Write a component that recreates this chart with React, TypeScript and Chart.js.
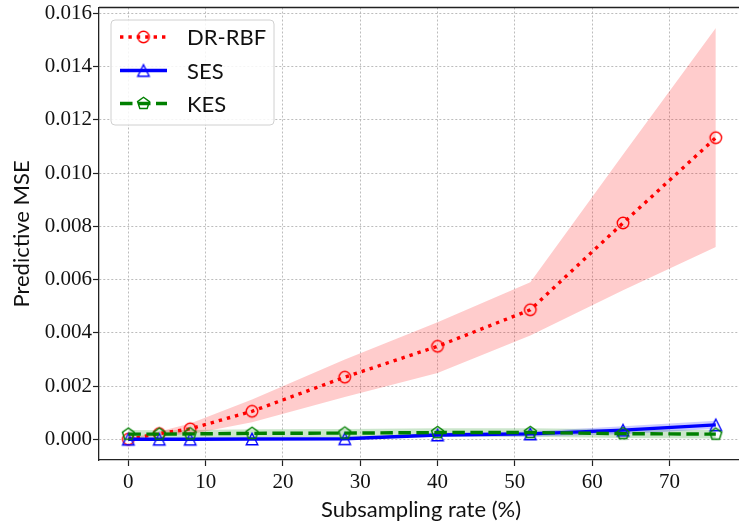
import React, { useEffect, useRef } from "react";
import { Chart, registerables } from "chart.js";

Chart.register(...registerables);

// ---- data ----
const xValues = [0, 4, 8, 16, 28, 40, 52, 64, 76];

const drMean = [0.00001, 0.00022, 0.0004, 0.00106, 0.00234, 0.0035, 0.00487, 0.00813, 0.01133];
const drLow = [0.0, 0.00015, 0.0002, 0.00065, 0.0016, 0.0025, 0.0039, 0.0056, 0.00723];
const drHigh = [0.00003, 0.0003, 0.0006, 0.0015, 0.003, 0.0044, 0.0059, 0.0107, 0.01545];

const sesMean = [0.00001, 0.00001, 0.00001, 0.00002, 0.00003, 0.00017, 0.00021, 0.00035, 0.00055];
const sesLow = [0.0, 0.0, 0.0, 0.0, 0.0, 0.0001, 0.00011, 0.0002, 0.0004];
const sesHigh = [0.00003, 0.00003, 0.00003, 0.00004, 0.00006, 0.00024, 0.0003, 0.0005, 0.0007];

const kesMean = [0.0002, 0.0002, 0.00021, 0.00023, 0.00024, 0.00026, 0.00026, 0.00022, 0.0002];
const kesLow = [0.00004, 0.00005, 0.00006, 0.00008, 0.00009, 0.0001, 0.0001, 0.00006, 0.00004];
const kesHigh = [0.00036, 0.00035, 0.00036, 0.00038, 0.00039, 0.00042, 0.00042, 0.00038, 0.00036];

const xTicks = [0, 10, 20, 30, 40, 50, 60, 70];
const yTicks = [0, 0.002, 0.004, 0.006, 0.008, 0.01, 0.012, 0.014, 0.016];

const seriesNames = ["DR-RBF", "SES", "KES"];
const xTitle = "Subsampling rate (%)";
const yTitle = "Predictive MSE";

const RED = "#ff0000";
const BLUE = "#0000ff";
const GREEN = "#008000";

function makeMarker(kind: string, color: string, size: number) {
  const pad = 2;
  const dim = Math.round(size + pad * 2);
  const c = document.createElement("canvas");
  c.width = dim;
  c.height = dim;
  const ctx = c.getContext("2d")!;
  const cx = dim / 2;
  const cy = dim / 2;
  const r = size / 2;
  ctx.strokeStyle = color;
  ctx.lineWidth = 1.4;
  ctx.beginPath();
  if (kind === "circle") {
    ctx.arc(cx, cy, r, 0, Math.PI * 2);
  } else if (kind === "triangle") {
    ctx.moveTo(cx, cy - r);
    ctx.lineTo(cx - r, cy + r);
    ctx.lineTo(cx + r, cy + r);
    ctx.closePath();
  } else {
    for (let k = 0; k < 5; k++) {
      const a = -Math.PI / 2 + (k * 2 * Math.PI) / 5;
      const px = cx + r * Math.cos(a);
      const py = cy + r * Math.sin(a);
      if (k === 0) ctx.moveTo(px, py);
      else ctx.lineTo(px, py);
    }
    ctx.closePath();
  }
  ctx.stroke();
  return c;
}

export default function App() {
  const ref = useRef<HTMLCanvasElement | null>(null);

  useEffect(() => {
    const canvas = ref.current!;
    const circle = makeMarker("circle", RED, 11.5);
    const tri = makeMarker("triangle", BLUE, 11.5);
    const pent = makeMarker("pentagon", GREEN, 12.5);

    const pts = (arr: number[]) => xValues.map((x, i) => ({ x, y: arr[i] }));

    const bandBase = {
      borderWidth: 0,
      pointRadius: 0,
      pointHoverRadius: 0,
      showLine: true,
    };

    const legendItems = [
      { name: seriesNames[0], color: RED, width: 3.4, dash: [3.4, 5], marker: circle },
      { name: seriesNames[1], color: BLUE, width: 3.4, dash: [] as number[], marker: tri },
      { name: seriesNames[2], color: GREEN, width: 3.4, dash: [12.5, 5.5], marker: pent },
    ];

    const extras = {
      id: "extras",
      afterDraw(chart: any) {
        const { ctx, chartArea } = chart;
        ctx.save();
        // top spine
        ctx.strokeStyle = "#222";
        ctx.lineWidth = 1.3;
        ctx.beginPath();
        ctx.moveTo(chartArea.left, chartArea.top);
        ctx.lineTo(chartArea.right, chartArea.top);
        ctx.stroke();

        // axis titles
        ctx.fillStyle = "#111";
        ctx.font = "22px Lato";
        ctx.textAlign = "center";
        ctx.textBaseline = "middle";
        ctx.fillText(xTitle, 421, 510);
        ctx.save();
        ctx.translate(22, 234);
        ctx.rotate(-Math.PI / 2);
        ctx.fillText(yTitle, 0, 0);
        ctx.restore();

        // legend
        const bx = 111, by = 20, bw = 163, bh = 105, rr = 4;
        ctx.beginPath();
        ctx.moveTo(bx + rr, by);
        ctx.lineTo(bx + bw - rr, by);
        ctx.quadraticCurveTo(bx + bw, by, bx + bw, by + rr);
        ctx.lineTo(bx + bw, by + bh - rr);
        ctx.quadraticCurveTo(bx + bw, by + bh, bx + bw - rr, by + bh);
        ctx.lineTo(bx + rr, by + bh);
        ctx.quadraticCurveTo(bx, by + bh, bx, by + bh - rr);
        ctx.lineTo(bx, by + rr);
        ctx.quadraticCurveTo(bx, by, bx + rr, by);
        ctx.closePath();
        ctx.fillStyle = "rgba(255,255,255,0.85)";
        ctx.fill();
        ctx.strokeStyle = "#d0d0d0";
        ctx.lineWidth = 1;
        ctx.stroke();

        const rows = [37, 70.5, 103.5];
        legendItems.forEach((it, i) => {
          const y = rows[i];
          ctx.save();
          ctx.strokeStyle = it.color;
          ctx.lineWidth = it.width;
          ctx.setLineDash(it.dash);
          ctx.beginPath();
          ctx.moveTo(120, y);
          ctx.lineTo(167, y);
          ctx.stroke();
          ctx.restore();
          ctx.drawImage(it.marker, 143.5 - it.marker.width / 2, y - it.marker.height / 2);
          ctx.fillStyle = "#111";
          ctx.font = "22px Lato";
          ctx.textAlign = "left";
          ctx.textBaseline = "middle";
          ctx.fillText(it.name, 187, y + 1);
        });
        ctx.restore();
      },
    };

    const chart = new Chart(canvas, {
      type: "line",
      data: {
        datasets: [
          {
            label: seriesNames[2],
            data: pts(kesMean),
            borderColor: GREEN,
            borderWidth: 3.4,
            borderDash: [12.5, 5.5],
            borderCapStyle: "butt",
            pointStyle: pent as any,
            pointRadius: 5,
            fill: false,
          },
          {
            label: seriesNames[1],
            data: pts(sesMean),
            borderColor: BLUE,
            borderWidth: 3.4,
            pointStyle: tri as any,
            pointRadius: 5,
            fill: false,
          },
          {
            label: seriesNames[0],
            data: pts(drMean),
            borderColor: RED,
            borderWidth: 3.4,
            borderDash: [3.4, 5],
            borderCapStyle: "butt",
            pointStyle: circle as any,
            pointRadius: 5,
            fill: false,
          },
          { ...bandBase, label: "drLow", data: pts(drLow), fill: false },
          { ...bandBase, label: "drHigh", data: pts(drHigh), fill: 3, backgroundColor: "rgba(255,0,0,0.2)" },
          { ...bandBase, label: "sesLow", data: pts(sesLow), fill: false },
          { ...bandBase, label: "sesHigh", data: pts(sesHigh), fill: 5, backgroundColor: "rgba(0,0,255,0.2)" },
          { ...bandBase, label: "kesLow", data: pts(kesLow), fill: false },
          { ...bandBase, label: "kesHigh", data: pts(kesHigh), fill: 7, backgroundColor: "rgba(0,128,0,0.2)" },
        ] as any,
      },
      options: {
        responsive: false,
        animation: false,
        events: [],
        layout: { autoPadding: false, padding: { top: 7.5, right: 0, left: 0, bottom: 0 } },
        plugins: {
          legend: { display: false },
          tooltip: { enabled: false },
        },
        scales: {
          x: {
            type: "linear",
            min: -3.8,
            max: 79,
            afterBuildTicks: (scale: any) => {
              scale.ticks = xTicks.map((v) => ({ value: v }));
            },
            afterFit: (scale: any) => {
              scale.height = 65;
              scale.paddingLeft = 0;
              scale.paddingRight = 0;
            },
            ticks: {
              autoSkip: false,
              maxRotation: 0,
              padding: 4,
              color: "#111",
              font: { family: "Liberation Serif", size: 21 },
              callback: (v: any) => String(v),
            },
            grid: {
              color: "#b5b5b5",
              lineWidth: 0.9,
              tickColor: "#222",
              tickLength: 6,
              tickWidth: 1.2,
            },
            border: { display: true, color: "#222", width: 1.3, dash: [2, 2] },
          },
          y: {
            type: "linear",
            min: -0.00077,
            max: 0.01622,
            afterBuildTicks: (scale: any) => {
              scale.ticks = yTicks.map((v) => ({ value: v }));
            },
            afterFit: (scale: any) => {
              scale.width = 99;
              scale.paddingTop = 0;
              scale.paddingBottom = 0;
            },
            ticks: {
              autoSkip: false,
              padding: 1,
              color: "#111",
              font: { family: "Liberation Serif", size: 21 },
              callback: (v: any) => Number(v).toFixed(3),
            },
            grid: {
              color: "#b5b5b5",
              lineWidth: 0.9,
              tickColor: "#222",
              tickLength: 6,
              tickWidth: 1.2,
            },
            border: { display: true, color: "#222", width: 1.3, dash: [2, 2] },
          },
        },
      } as any,
      plugins: [extras],
    });

    return () => chart.destroy();
  }, []);

  return (
    <div style={{ position: "absolute", left: 0, top: 0, width: 739, height: 525, background: "#fff" }}>
      <canvas ref={ref} width={739} height={525} style={{ display: "block" }} />
    </div>
  );
}
